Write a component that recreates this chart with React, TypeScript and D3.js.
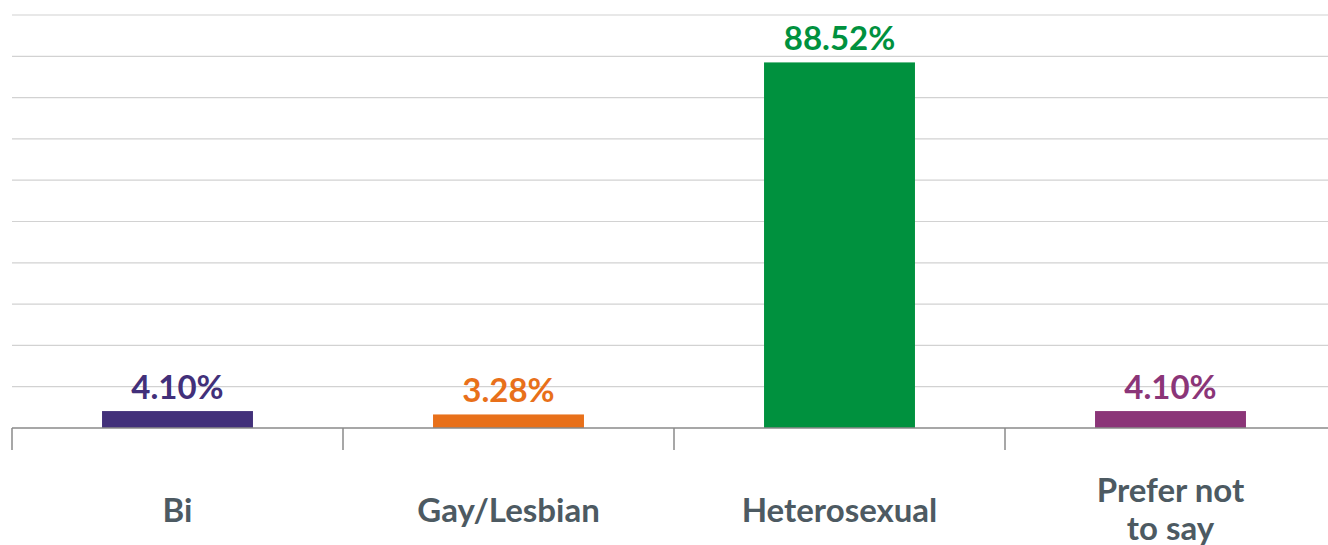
import React from "react";
import * as d3 from "d3";

const categories = ["Bi", "Gay/Lesbian", "Heterosexual", "Prefer not to say"];
const categoryLines = [["Bi"], ["Gay/Lesbian"], ["Heterosexual"], ["Prefer not", "to say"]];
const values = [4.1, 3.28, 88.52, 4.1];
const valueLabels = ["4.10%", "3.28%", "88.52%", "4.10%"];
const colors = ["#42307a", "#e8701a", "#00913e", "#8b3578"];
const gridTicks = [0, 10, 20, 30, 40, 50, 60, 70, 80, 90, 100];

const W = 1328;
const H = 545;
const left = 12;
const step = 331;
const top = 15;
const baseline = 428;

export default function App() {
  const x = d3
    .scaleBand<string>()
    .domain(categories)
    .range([left, left + step * categories.length])
    .paddingInner(0.544)
    .paddingOuter(0.272);
  const y = d3.scaleLinear().domain([0, 100]).range([baseline, top]);
  const font = "Lato, 'Open Sans', sans-serif";
  return (
    <svg
      width={W}
      height={H}
      style={{ position: "absolute", left: 0, top: 0, background: "#fff" }}
    >
      {gridTicks.slice(1).map((t) => (
        <line key={t} x1={left} x2={W} y1={y(t)} y2={y(t)} stroke="#d2d2d2" strokeWidth={1.2} />
      ))}
      {categories.map((c, i) => (
        <rect
          key={c}
          x={x(c)}
          y={y(values[i])}
          width={x.bandwidth()}
          height={baseline - y(values[i])}
          fill={colors[i]}
        />
      ))}
      <line x1={left} x2={W} y1={baseline} y2={baseline} stroke="#8a8a8a" strokeWidth={1.5} />
      {categories.map((c, i) => (
        <line
          key={"t" + c}
          x1={left + step * i}
          x2={left + step * i}
          y1={baseline}
          y2={450}
          stroke="#8a8a8a"
          strokeWidth={1.5}
        />
      ))}
      {categories.map((c, i) => (
        <text
          key={"v" + c}
          x={(x(c) as number) + x.bandwidth() / 2}
          y={y(values[i]) - 12}
          textAnchor="middle"
          fontFamily={font}
          fontWeight={700}
          fontSize={33}
          fill={colors[i]}
        >
          {valueLabels[i]}
        </text>
      ))}
      {categories.map((c, i) => {
        const lines = categoryLines[i];
        const cx = (x(c) as number) + x.bandwidth() / 2;
        const y0 = lines.length === 1 ? 522 : 502;
        return (
          <text
            key={"c" + c}
            textAnchor="middle"
            fontFamily={font}
            fontWeight={700}
            fontSize={33}
            fill="#4d5a62"
          >
            {lines.map((l, j) => (
              <tspan key={j} x={cx} y={y0 + j * 38}>
                {l}
              </tspan>
            ))}
          </text>
        );
      })}
    </svg>
  );
}
